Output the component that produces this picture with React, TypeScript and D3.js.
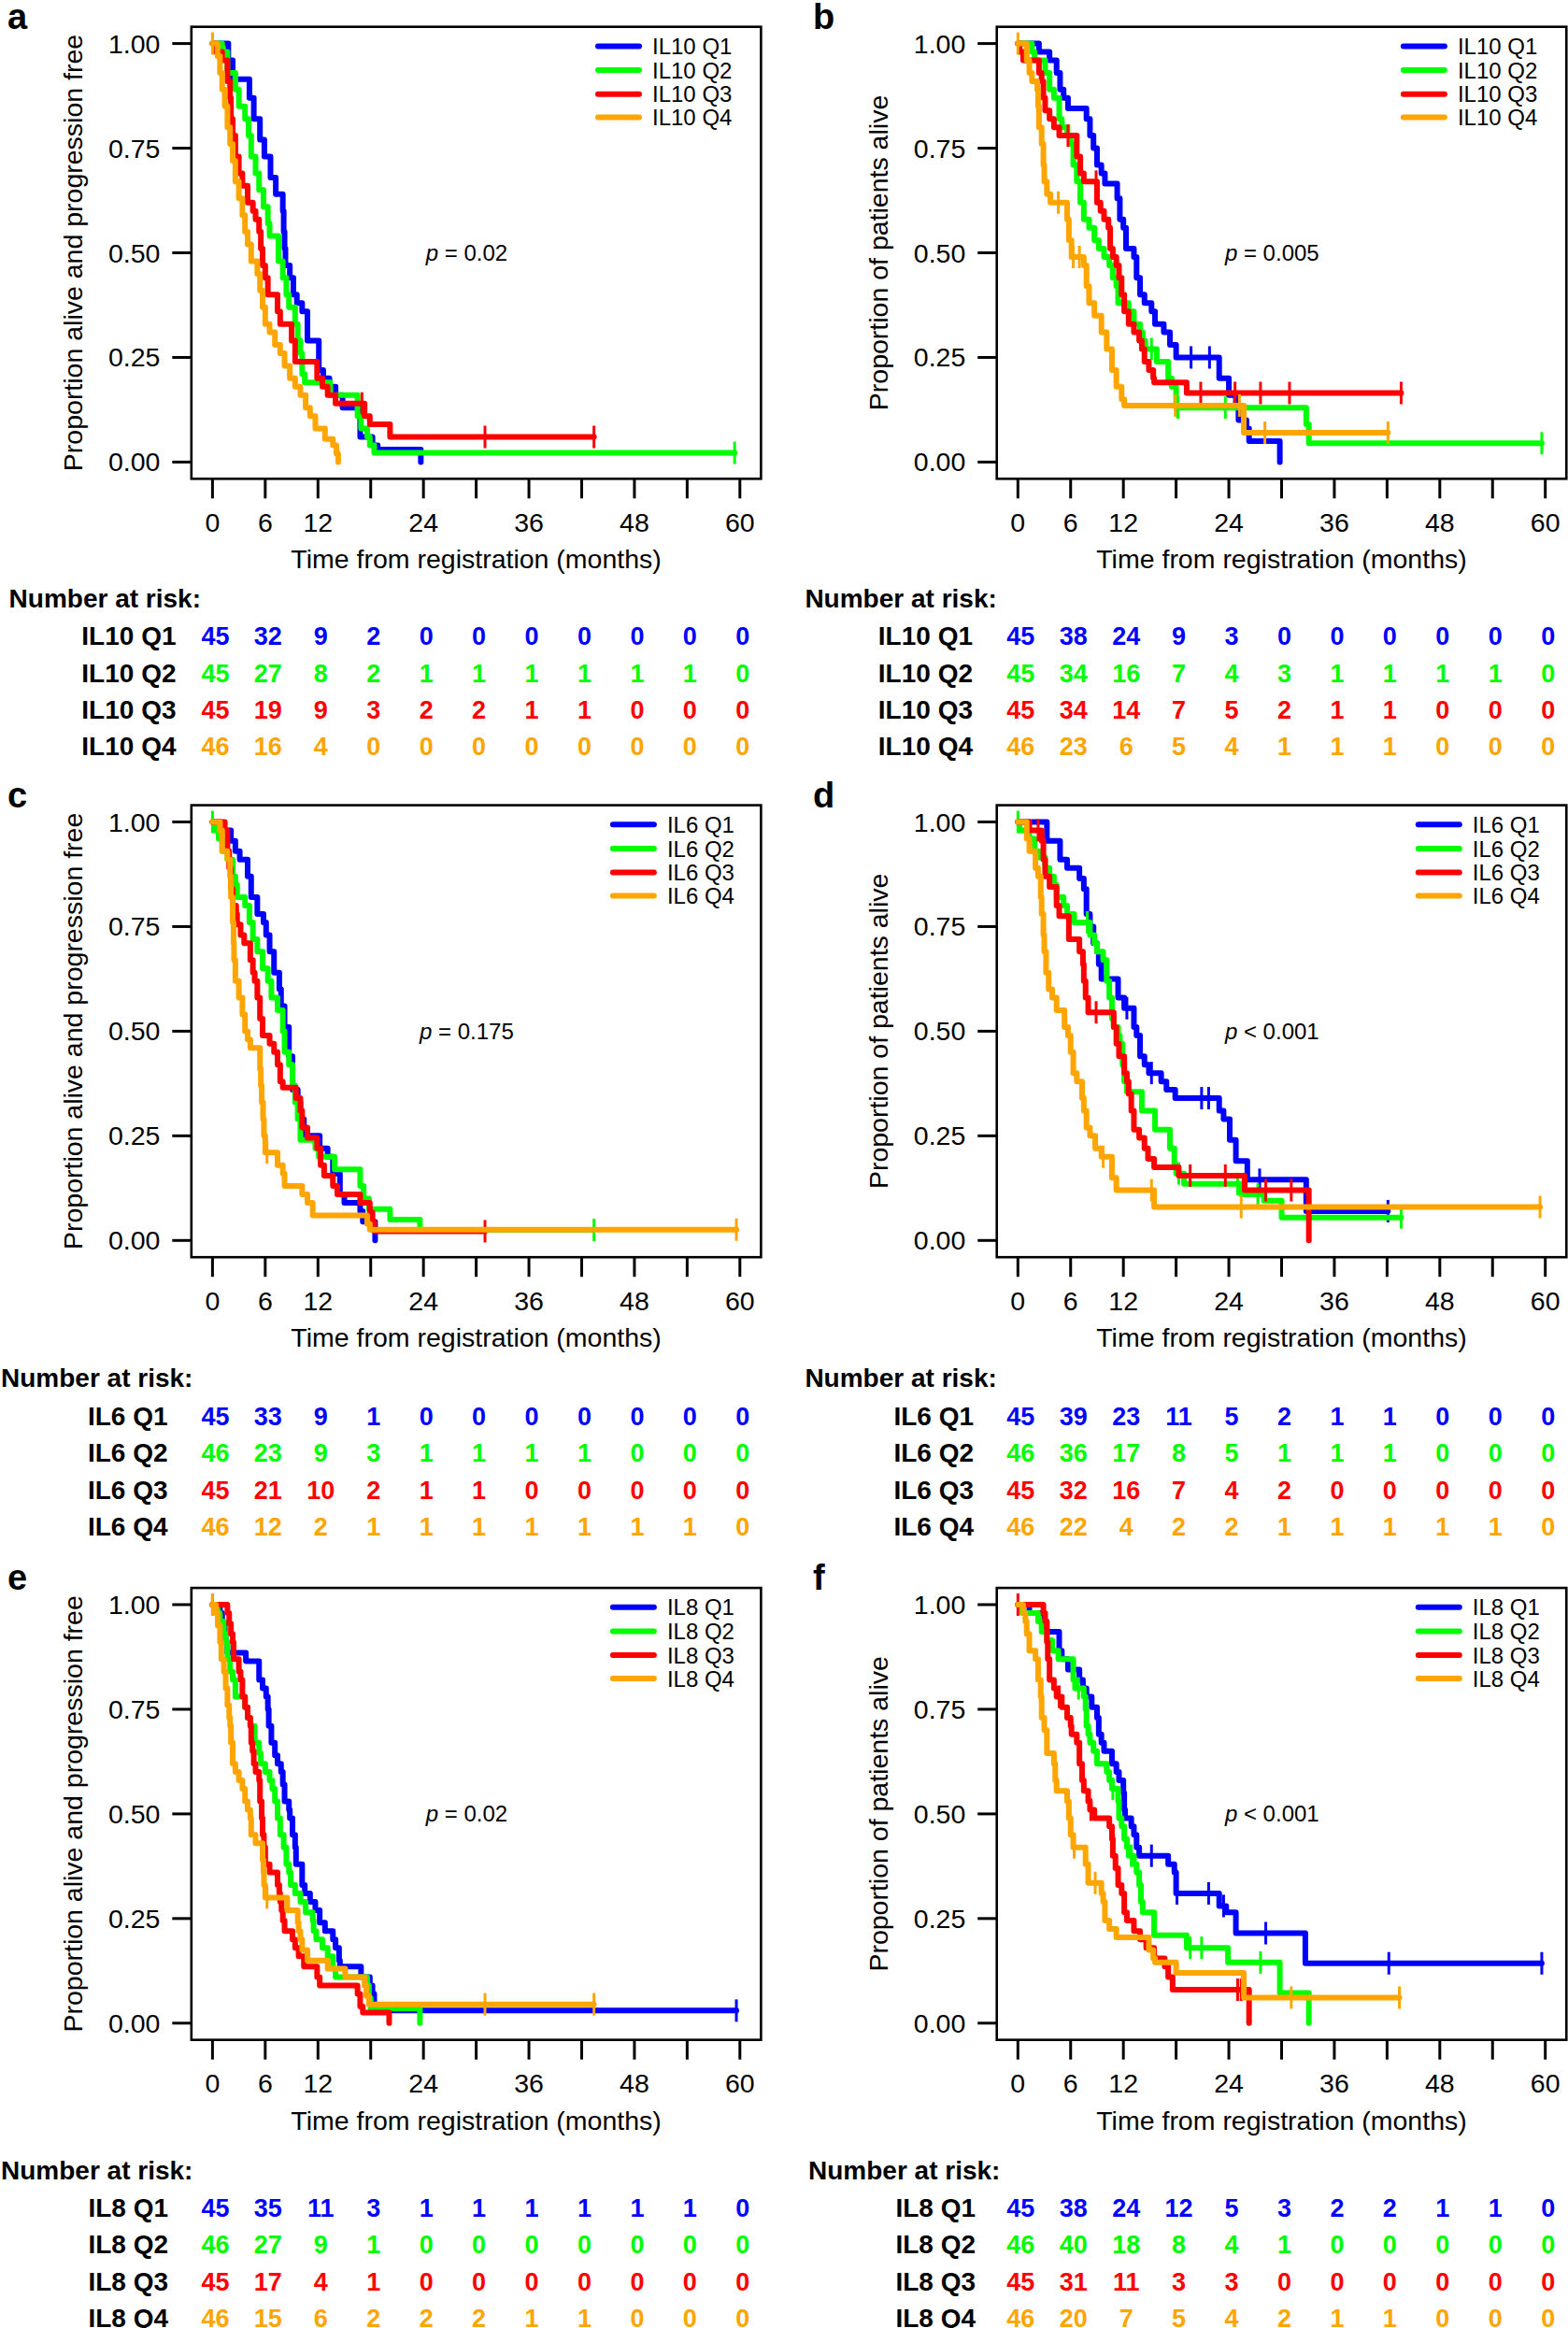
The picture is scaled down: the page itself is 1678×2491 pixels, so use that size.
import React from 'react';
import * as d3 from 'd3';

type Step = [number, number];

// ---------- shared axis values ----------
const timeTicks = [0, 6, 12, 18, 24, 30, 36, 42, 48, 54, 60];
const timeTickLabels = ['0', '6', '12', '', '24', '', '36', '', '48', '', '60'];
const survTicks = [0, 0.25, 0.5, 0.75, 1];
const survTickLabels = ['0.00', '0.25', '0.50', '0.75', '1.00'];
const riskTimes = [0, 6, 12, 18, 24, 30, 36, 42, 48, 54, 60];
const groupColors = ['#0000FF', '#00FF00', '#FF0000', '#FFA500'];

const il10Groups = ['IL10 Q1', 'IL10 Q2', 'IL10 Q3', 'IL10 Q4'];
const il6Groups = ['IL6 Q1', 'IL6 Q2', 'IL6 Q3', 'IL6 Q4'];
const il8Groups = ['IL8 Q1', 'IL8 Q2', 'IL8 Q3', 'IL8 Q4'];

const pfsTitle = 'Proportion alive and progression free';
const osTitle = 'Proportion of patients alive';
const xTitle = 'Time from registration (months)';

// ---------- panel a: IL10, PFS ----------
const aQ1Steps: Step[] = [[1.8,0.96],[2.3,0.915],[4.2,0.87],[4.7,0.82],[5.4,0.77],[5.9,0.73],[6.6,0.68],[7.2,0.64],[8.0,0.6],[8.1,0.55],[8.2,0.51],[8.3,0.47],[8.8,0.44],[9.2,0.4],[9.6,0.38],[10.2,0.36],[10.8,0.29],[12.1,0.22],[12.6,0.2],[13.3,0.18],[14.0,0.16],[14.8,0.13],[16.8,0.06],[18.2,0.04],[18.8,0.03],[23.7,0]];
const aQ1Censor: number[] = [];
const aQ2Steps: Step[] = [[1.1,0.98],[1.7,0.93],[2.6,0.89],[3.0,0.85],[3.7,0.82],[4.1,0.78],[4.4,0.73],[4.9,0.69],[5.3,0.65],[5.8,0.61],[6.3,0.57],[6.5,0.54],[7.5,0.48],[8.0,0.44],[8.4,0.4],[8.7,0.37],[9.4,0.33],[9.7,0.29],[10.0,0.26],[10.2,0.21],[10.5,0.19],[13.4,0.16],[16.5,0.11],[16.9,0.08],[17.6,0.06],[17.9,0.04],[18.4,0.022]];
const aQ2Censor: number[] = [59.4];
const aQ3Steps: Step[] = [[0.4,0.98],[1.1,0.96],[1.7,0.91],[2.0,0.87],[2.1,0.82],[2.3,0.78],[2.6,0.73],[3.0,0.69],[3.4,0.66],[4.0,0.62],[4.6,0.6],[4.9,0.58],[5.3,0.55],[5.5,0.51],[5.7,0.47],[6.0,0.44],[6.3,0.4],[7.4,0.36],[7.7,0.33],[9.0,0.29],[9.4,0.24],[11.9,0.2],[12.5,0.18],[13.1,0.16],[14.0,0.14],[17.3,0.11],[17.9,0.09],[20.2,0.06]];
const aQ3Censor: number[] = [17.0, 31.0, 43.4];
const aQ4Steps: Step[] = [[0.57,0.97],[0.85,0.93],[1.1,0.89],[1.4,0.85],[1.7,0.8],[2.0,0.76],[2.3,0.72],[2.6,0.67],[3.0,0.63],[3.4,0.59],[3.7,0.55],[4.0,0.52],[4.4,0.48],[5.1,0.45],[5.4,0.41],[5.7,0.37],[6.0,0.33],[6.5,0.31],[7.1,0.28],[7.7,0.26],[8.2,0.23],[8.8,0.2],[9.4,0.18],[10.0,0.16],[10.6,0.13],[11.1,0.11],[11.7,0.08],[12.8,0.055],[13.7,0.04],[14.1,0.02],[14.3,0]];
const aQ4Censor: number[] = [0];
const aRiskQ1 = [45, 32, 9, 2, 0, 0, 0, 0, 0, 0, 0];
const aRiskQ2 = [45, 27, 8, 2, 1, 1, 1, 1, 1, 1, 0];
const aRiskQ3 = [45, 19, 9, 3, 2, 2, 1, 1, 0, 0, 0];
const aRiskQ4 = [46, 16, 4, 0, 0, 0, 0, 0, 0, 0, 0];

// ---------- panel b: IL10, OS ----------
const bQ1Steps: Step[] = [[2.4,0.98],[3.6,0.96],[4.4,0.93],[4.8,0.89],[5.2,0.87],[5.7,0.845],[7.8,0.82],[8.2,0.78],[8.6,0.75],[9.0,0.71],[9.5,0.69],[9.9,0.665],[11.3,0.63],[11.6,0.58],[12.0,0.56],[12.3,0.51],[13.2,0.49],[13.5,0.44],[13.9,0.4],[14.4,0.38],[15.2,0.36],[15.6,0.33],[16.6,0.31],[17.3,0.28],[18.0,0.25],[22.9,0.2],[24.0,0.16],[24.8,0.13],[25.1,0.1],[26.0,0.08],[26.3,0.05],[29.8,0]];
const bQ1Censor: number[] = [19.7, 21.8];
const bQ2Steps: Step[] = [[1.6,0.98],[1.9,0.96],[3.1,0.93],[3.6,0.89],[4.1,0.87],[4.7,0.82],[5.0,0.8],[5.6,0.78],[6.0,0.76],[6.3,0.71],[6.7,0.67],[7.1,0.62],[7.5,0.58],[8.1,0.56],[8.7,0.53],[9.2,0.51],[9.8,0.49],[10.4,0.47],[10.8,0.44],[11.2,0.42],[11.4,0.38],[12.6,0.36],[13.2,0.33],[13.9,0.31],[14.2,0.29],[14.5,0.27],[15.8,0.24],[17.1,0.2],[17.5,0.18],[18.0,0.13],[32.8,0.09],[33.1,0.045]];
const bQ2Censor: number[] = [5.8, 15.2, 18.2, 23.6, 59.6];
const bQ3Steps: Step[] = [[0.2,0.98],[0.6,0.96],[2.4,0.93],[2.7,0.91],[2.9,0.87],[3.1,0.84],[3.6,0.82],[4.1,0.8],[4.7,0.78],[6.7,0.73],[7.1,0.69],[7.5,0.67],[9.0,0.62],[9.4,0.6],[9.8,0.58],[10.3,0.56],[10.5,0.51],[10.8,0.49],[11.2,0.47],[11.5,0.44],[11.8,0.4],[12.1,0.36],[12.6,0.33],[13.2,0.31],[13.8,0.29],[14.1,0.27],[14.4,0.24],[14.9,0.22],[15.4,0.2],[15.5,0.19],[19.2,0.165]];
const bQ3Censor: number[] = [5.7, 8.9, 20.8, 24.7, 27.6, 30.9, 43.6];
const bQ4Steps: Step[] = [[1.0,0.96],[1.3,0.93],[1.6,0.91],[2.2,0.89],[2.3,0.85],[2.4,0.8],[2.7,0.76],[2.9,0.71],[3.0,0.67],[3.3,0.64],[3.7,0.62],[5.6,0.58],[5.8,0.53],[6.1,0.49],[7.5,0.47],[7.8,0.42],[8.1,0.38],[8.7,0.35],[9.5,0.31],[10.1,0.27],[10.7,0.22],[11.2,0.18],[11.8,0.15],[12.1,0.135],[25.7,0.07]];
const bQ4Censor: number[] = [0, 4.6, 6.3, 7.0, 17.9, 25.2, 28.1, 42.1];
const bRiskQ1 = [45, 38, 24, 9, 3, 0, 0, 0, 0, 0, 0];
const bRiskQ2 = [45, 34, 16, 7, 4, 3, 1, 1, 1, 1, 0];
const bRiskQ3 = [45, 34, 14, 7, 5, 2, 1, 1, 0, 0, 0];
const bRiskQ4 = [46, 23, 6, 5, 4, 1, 1, 1, 0, 0, 0];

// ---------- panel c: IL6, PFS ----------
const cQ1Steps: Step[] = [[0.85,0.98],[2.1,0.955],[2.6,0.93],[3.1,0.91],[4.0,0.87],[4.4,0.82],[5.1,0.78],[5.8,0.76],[6.1,0.73],[6.5,0.69],[7.0,0.64],[7.6,0.6],[7.8,0.56],[8.2,0.51],[8.7,0.44],[9.1,0.36],[9.7,0.33],[10.0,0.29],[10.4,0.25],[12.2,0.22],[13.1,0.2],[13.7,0.16],[14.5,0.11],[15.0,0.09],[16.8,0.07],[17.1,0.045],[18.5,0]];
const cQ1Censor: number[] = [];
const cQ2Steps: Step[] = [[0.3,0.98],[0.7,0.96],[1.1,0.93],[1.7,0.91],[2.3,0.87],[2.6,0.85],[2.8,0.82],[3.7,0.8],[4.2,0.76],[4.6,0.72],[5.1,0.69],[5.7,0.65],[6.3,0.62],[6.7,0.58],[7.4,0.55],[8.0,0.5],[8.2,0.45],[8.7,0.42],[9.1,0.37],[9.4,0.33],[9.7,0.29],[10.0,0.24],[11.7,0.22],[12.1,0.2],[13.9,0.17],[16.8,0.13],[17.2,0.1],[17.8,0.075],[20.2,0.05],[23.6,0.025]];
const cQ2Censor: number[] = [0, 43.4];
const cQ3Steps: Step[] = [[1.4,0.98],[1.7,0.93],[1.9,0.89],[2.1,0.84],[2.3,0.8],[2.7,0.78],[2.8,0.755],[3.2,0.73],[3.6,0.71],[4.3,0.67],[4.6,0.64],[4.8,0.62],[5.1,0.58],[5.4,0.53],[5.7,0.49],[6.5,0.47],[7.0,0.45],[7.4,0.42],[7.7,0.38],[8.0,0.365],[9.5,0.34],[10.0,0.31],[10.2,0.27],[10.8,0.245],[11.9,0.22],[12.3,0.18],[12.7,0.155],[13.7,0.13],[14.2,0.11],[16.8,0.09],[17.9,0.067],[18.2,0.045],[18.4,0.022]];
const cQ3Censor: number[] = [31.0];
const cQ4Steps: Step[] = [[0.85,0.98],[1.1,0.93],[1.7,0.91],[2.0,0.87],[2.1,0.82],[2.3,0.76],[2.4,0.71],[2.45,0.67],[2.6,0.62],[3.0,0.58],[3.4,0.54],[3.7,0.5],[4.0,0.48],[4.3,0.46],[5.4,0.41],[5.5,0.37],[5.6,0.33],[5.75,0.29],[5.85,0.25],[6.0,0.21],[7.4,0.18],[8.0,0.16],[8.2,0.13],[10.2,0.11],[10.8,0.09],[11.4,0.06],[17.6,0.04],[17.9,0.026]];
const cQ4Censor: number[] = [6.2, 59.6];
const cRiskQ1 = [45, 33, 9, 1, 0, 0, 0, 0, 0, 0, 0];
const cRiskQ2 = [46, 23, 9, 3, 1, 1, 1, 1, 0, 0, 0];
const cRiskQ3 = [45, 21, 10, 2, 1, 1, 0, 0, 0, 0, 0];
const cRiskQ4 = [46, 12, 2, 1, 1, 1, 1, 1, 1, 1, 0];

// ---------- panel d: IL6, OS ----------
const dQ1Steps: Step[] = [[3.3,0.955],[4.8,0.91],[5.6,0.89],[7.0,0.865],[7.5,0.84],[7.8,0.78],[8.2,0.75],[8.6,0.71],[9.0,0.69],[9.2,0.66],[9.5,0.625],[11.4,0.58],[12.1,0.555],[13.2,0.51],[13.5,0.49],[13.9,0.44],[14.4,0.42],[14.9,0.4],[16.3,0.38],[16.9,0.36],[17.9,0.34],[22.9,0.31],[23.4,0.29],[24.1,0.24],[24.8,0.19],[26.1,0.145],[32.8,0.07]];
const dQ1Censor: number[] = [12.4, 15.2, 20.9, 21.7, 27.5, 42.1];
const dQ2Steps: Step[] = [[0.2,0.98],[1.3,0.96],[1.9,0.93],[2.4,0.915],[3.1,0.89],[3.6,0.87],[4.1,0.85],[4.4,0.82],[5.2,0.8],[5.6,0.78],[6.4,0.76],[8.2,0.73],[8.7,0.71],[9.0,0.69],[9.7,0.67],[10.1,0.62],[10.4,0.58],[10.7,0.53],[10.9,0.51],[11.4,0.49],[11.6,0.47],[11.9,0.42],[12.1,0.38],[12.4,0.355],[14.1,0.31],[15.6,0.265],[17.3,0.22],[17.8,0.18],[18.0,0.16],[18.9,0.135],[25.4,0.11],[28.0,0.095],[30.0,0.055]];
const dQ2Censor: number[] = [0, 7.9, 18.3, 25.0, 27.3, 43.6];
const dQ3Steps: Step[] = [[1.3,0.98],[2.7,0.955],[2.9,0.91],[3.1,0.87],[3.6,0.845],[4.4,0.8],[4.7,0.775],[5.8,0.72],[7.0,0.69],[7.4,0.66],[7.5,0.62],[7.7,0.58],[8.0,0.545],[10.9,0.51],[11.2,0.47],[11.5,0.44],[12.1,0.4],[12.4,0.38],[12.6,0.35],[12.9,0.31],[13.2,0.265],[13.8,0.245],[14.4,0.22],[14.8,0.195],[15.5,0.175],[18.3,0.155],[25.8,0.12],[33.1,0]];
const dQ3Censor: number[] = [2.3, 8.9, 19.6, 23.6, 28.2, 31.1];
const dQ4Steps: Step[] = [[1.0,0.96],[1.3,0.93],[2.0,0.89],[2.3,0.87],[2.6,0.82],[2.7,0.78],[2.9,0.73],[3.0,0.69],[3.2,0.64],[3.5,0.6],[3.9,0.58],[4.4,0.55],[5.3,0.51],[5.7,0.49],[6.0,0.45],[6.3,0.4],[6.7,0.38],[7.3,0.34],[7.5,0.31],[7.8,0.27],[8.2,0.25],[8.8,0.22],[9.5,0.2],[10.7,0.15],[11.2,0.12],[15.5,0.08]];
const dQ4Censor: number[] = [9.7, 15.2, 25.4, 59.4];
const dRiskQ1 = [45, 39, 23, 11, 5, 2, 1, 1, 0, 0, 0];
const dRiskQ2 = [46, 36, 17, 8, 5, 1, 1, 1, 0, 0, 0];
const dRiskQ3 = [45, 32, 16, 7, 4, 2, 0, 0, 0, 0, 0];
const dRiskQ4 = [46, 22, 4, 2, 2, 1, 1, 1, 1, 1, 0];

// ---------- panel e: IL8, PFS ----------
const eQ1Steps: Step[] = [[0.85,0.98],[1.1,0.955],[1.4,0.93],[1.5,0.91],[1.7,0.885],[3.8,0.865],[5.3,0.82],[5.7,0.8],[6.1,0.78],[6.3,0.75],[6.4,0.71],[6.7,0.67],[7.1,0.64],[7.4,0.62],[7.8,0.6],[8.0,0.57],[8.2,0.53],[8.7,0.51],[8.8,0.49],[9.1,0.45],[9.4,0.42],[9.5,0.38],[10.2,0.33],[10.5,0.31],[11.1,0.29],[11.7,0.27],[12.2,0.24],[12.8,0.22],[13.7,0.2],[14.0,0.18],[14.4,0.15],[14.5,0.135],[16.9,0.11],[17.9,0.09],[18.2,0.07],[18.4,0.045],[18.5,0.03]];
const eQ1Censor: number[] = [59.6];
const eQ2Steps: Step[] = [[0.6,0.98],[0.85,0.96],[1.3,0.93],[1.5,0.91],[1.7,0.87],[2.0,0.84],[2.3,0.82],[2.6,0.78],[3.7,0.755],[4.0,0.73],[4.3,0.71],[4.8,0.67],[5.3,0.645],[5.5,0.62],[6.0,0.6],[6.5,0.58],[6.8,0.56],[7.1,0.53],[7.4,0.49],[7.7,0.45],[8.1,0.42],[8.4,0.38],[8.7,0.36],[8.9,0.33],[9.4,0.31],[10.0,0.29],[10.6,0.265],[11.4,0.245],[11.5,0.22],[11.8,0.2],[12.5,0.18],[13.1,0.16],[13.7,0.13],[14.0,0.11],[17.6,0.09],[17.8,0.06],[18.0,0.035],[23.6,0]];
const eQ2Censor: number[] = [];
const eQ3Steps: Step[] = [[1.7,0.98],[1.9,0.955],[2.1,0.93],[2.3,0.91],[2.4,0.87],[3.0,0.84],[3.2,0.82],[3.4,0.78],[3.7,0.755],[4.0,0.73],[4.3,0.71],[4.4,0.67],[4.55,0.65],[4.7,0.62],[4.9,0.6],[5.3,0.58],[5.4,0.53],[5.6,0.49],[5.7,0.45],[5.85,0.42],[6.0,0.38],[6.5,0.36],[7.4,0.33],[7.6,0.31],[7.7,0.29],[7.85,0.27],[8.0,0.245],[8.2,0.22],[9.1,0.2],[9.4,0.18],[9.8,0.16],[10.4,0.135],[11.9,0.11],[12.2,0.09],[16.5,0.07],[16.8,0.04],[17.1,0.025],[20.1,0]];
const eQ3Censor: number[] = [0];
const eQ4Steps: Step[] = [[0.4,0.98],[0.6,0.95],[0.85,0.91],[1.0,0.87],[1.3,0.84],[1.5,0.8],[1.7,0.76],[1.9,0.73],[2.0,0.71],[2.1,0.67],[2.3,0.62],[2.6,0.6],[3.0,0.58],[3.4,0.56],[3.7,0.53],[4.0,0.51],[4.3,0.49],[4.4,0.45],[4.9,0.43],[5.7,0.39],[5.8,0.36],[5.86,0.33],[6.0,0.3],[8.5,0.27],[9.7,0.24],[9.8,0.22],[10.0,0.2],[10.2,0.175],[10.8,0.15],[13.1,0.13],[15.1,0.11],[17.3,0.09],[17.5,0.065],[17.8,0.045]];
const eQ4Censor: number[] = [0, 6.2, 31.0, 43.4];
const eRiskQ1 = [45, 35, 11, 3, 1, 1, 1, 1, 1, 1, 0];
const eRiskQ2 = [46, 27, 9, 1, 0, 0, 0, 0, 0, 0, 0];
const eRiskQ3 = [45, 17, 4, 1, 0, 0, 0, 0, 0, 0, 0];
const eRiskQ4 = [46, 15, 6, 2, 2, 2, 1, 1, 0, 0, 0];

// ---------- panel f: IL8, OS ----------
const fQ1Steps: Step[] = [[1.3,0.98],[3.0,0.935],[4.7,0.89],[5.0,0.87],[5.7,0.845],[7.0,0.82],[7.4,0.8],[7.8,0.78],[8.4,0.755],[9.0,0.73],[9.2,0.69],[9.5,0.67],[9.8,0.65],[10.7,0.62],[11.2,0.6],[11.5,0.58],[12.0,0.55],[12.1,0.51],[12.2,0.49],[12.9,0.47],[13.2,0.45],[13.5,0.42],[13.8,0.4],[17.1,0.38],[17.8,0.36],[18.0,0.31],[22.9,0.28],[23.7,0.265],[24.8,0.215],[32.7,0.143]];
const fQ1Censor: number[] = [15.2, 18.1, 21.7, 23.4, 28.2, 42.2, 59.6];
const fQ2Steps: Step[] = [[0.5,0.98],[2.3,0.96],[2.7,0.935],[3.3,0.915],[3.9,0.89],[4.6,0.87],[6.3,0.82],[6.5,0.8],[7.5,0.78],[7.7,0.75],[7.8,0.71],[8.0,0.69],[8.2,0.67],[8.6,0.65],[9.0,0.62],[10.1,0.6],[10.4,0.58],[10.7,0.56],[11.4,0.53],[11.5,0.49],[11.8,0.47],[12.1,0.44],[12.4,0.42],[12.6,0.4],[13.2,0.38],[13.5,0.36],[13.8,0.33],[14.0,0.29],[14.2,0.265],[15.5,0.21],[19.2,0.18],[23.9,0.145],[29.8,0.072],[33.1,0]];
const fQ2Censor: number[] = [6.9, 10.8, 12.9, 19.6, 20.9, 27.6];
const fQ3Steps: Step[] = [[2.9,0.98],[3.1,0.96],[3.3,0.91],[3.4,0.87],[3.6,0.82],[4.1,0.8],[4.4,0.78],[5.0,0.755],[5.6,0.73],[6.0,0.71],[6.1,0.69],[6.7,0.67],[7.0,0.62],[7.3,0.58],[7.5,0.555],[8.0,0.53],[8.2,0.51],[8.7,0.49],[10.4,0.47],[10.7,0.44],[10.8,0.4],[11.1,0.37],[11.4,0.33],[11.8,0.31],[12.1,0.265],[12.4,0.245],[13.2,0.22],[13.9,0.2],[14.6,0.18],[15.5,0.155],[16.7,0.135],[17.1,0.11],[17.6,0.08],[26.3,0]];
const fQ3Censor: number[] = [0, 4.7, 8.3, 25.0, 25.4];
const fQ4Steps: Step[] = [[0.6,0.98],[0.85,0.96],[1.0,0.93],[1.3,0.89],[2.0,0.87],[2.3,0.82],[2.6,0.78],[2.7,0.73],[3.0,0.7],[3.3,0.645],[4.1,0.62],[4.25,0.58],[4.4,0.555],[5.6,0.53],[5.8,0.49],[6.0,0.45],[6.3,0.42],[7.7,0.38],[8.0,0.335],[9.5,0.31],[9.7,0.29],[9.9,0.245],[10.4,0.225],[11.2,0.205],[14.9,0.175],[15.4,0.155],[15.6,0.145],[18.0,0.12],[25.7,0.061]];
const fQ4Censor: number[] = [6.4, 8.8, 31.1, 43.4];
const fRiskQ1 = [45, 38, 24, 12, 5, 3, 2, 2, 1, 1, 0];
const fRiskQ2 = [46, 40, 18, 8, 4, 1, 0, 0, 0, 0, 0];
const fRiskQ3 = [45, 31, 11, 3, 3, 0, 0, 0, 0, 0, 0];
const fRiskQ4 = [46, 20, 7, 5, 4, 2, 1, 1, 0, 0, 0];

// ---------- panel assembly (content) ----------
const panels = [
  { letter: 'a', yTitle: pfsTitle, groups: il10Groups, pOp: '=', pVal: '0.02',
    steps: [aQ1Steps, aQ2Steps, aQ3Steps, aQ4Steps], censors: [aQ1Censor, aQ2Censor, aQ3Censor, aQ4Censor], risks: [aRiskQ1, aRiskQ2, aRiskQ3, aRiskQ4] },
  { letter: 'b', yTitle: osTitle, groups: il10Groups, pOp: '=', pVal: '0.005',
    steps: [bQ1Steps, bQ2Steps, bQ3Steps, bQ4Steps], censors: [bQ1Censor, bQ2Censor, bQ3Censor, bQ4Censor], risks: [bRiskQ1, bRiskQ2, bRiskQ3, bRiskQ4] },
  { letter: 'c', yTitle: pfsTitle, groups: il6Groups, pOp: '=', pVal: '0.175',
    steps: [cQ1Steps, cQ2Steps, cQ3Steps, cQ4Steps], censors: [cQ1Censor, cQ2Censor, cQ3Censor, cQ4Censor], risks: [cRiskQ1, cRiskQ2, cRiskQ3, cRiskQ4] },
  { letter: 'd', yTitle: osTitle, groups: il6Groups, pOp: '<', pVal: '0.001',
    steps: [dQ1Steps, dQ2Steps, dQ3Steps, dQ4Steps], censors: [dQ1Censor, dQ2Censor, dQ3Censor, dQ4Censor], risks: [dRiskQ1, dRiskQ2, dRiskQ3, dRiskQ4] },
  { letter: 'e', yTitle: pfsTitle, groups: il8Groups, pOp: '=', pVal: '0.02',
    steps: [eQ1Steps, eQ2Steps, eQ3Steps, eQ4Steps], censors: [eQ1Censor, eQ2Censor, eQ3Censor, eQ4Censor], risks: [eRiskQ1, eRiskQ2, eRiskQ3, eRiskQ4] },
  { letter: 'f', yTitle: osTitle, groups: il8Groups, pOp: '<', pVal: '0.001',
    steps: [fQ1Steps, fQ2Steps, fQ3Steps, fQ4Steps], censors: [fQ1Censor, fQ2Censor, fQ3Censor, fQ4Censor], risks: [fRiskQ1, fRiskQ2, fRiskQ3, fRiskQ4] },
];

// ---------- layout (pixels) ----------
const W = 1678;
const H = 2491;
const FONT = "'Liberation Sans', Arial, Helvetica, sans-serif";
const colX0 = [227.4, 1089.3];
const rowY1 = [46.6, 879.5, 1717];
const monthsW = 564.4; // 0..60 months
const unitH = 447.8;   // 0..1
const riskTitleY = [640, 1473.5, 2321.5];
const riskRowY = [[680, 719.5, 759, 798], [1515, 1554, 1593.5, 1633], [2361.5, 2401, 2440.5, 2480]];
const riskTitleX = [9.6, 861.4, 1, 861.4, 1, 865];
const riskLabelRight = [188.5, 1041, 179.5, 1042, 180, 1044];

function survAt(steps: Step[], t: number) {
  let s = 1;
  for (const [st, sv] of steps) if (st <= t) s = sv;
  return s;
}

function Panel({ p, idx }: { p: typeof panels[number]; idx: number }) {
  const col = idx % 2;
  const row = Math.floor(idx / 2);
  const x0 = colX0[col];
  const y1 = rowY1[row];
  const x = d3.scaleLinear().domain([0, 60]).range([x0, x0 + monthsW]);
  const y = d3.scaleLinear().domain([0, 1]).range([y1 + unitH, y1]);
  const boxL = x(-2.4), boxR = x(62.4), boxT = y(1.04), boxB = y(-0.04);
  const line = d3.line<Step>().x(d => x(d[0])).y(d => y(d[1])).curve(d3.curveStepAfter);
  const legendTextX = x0 + (p.groups[0].length > 6 ? 470.6 : 486.5);
  const legendDy = [2.8, 28.4, 54.1, 79];
  const rowsY = riskRowY[row];

  return (
    <g>
      <text x={x0 - 219.4} y={y1 - 16} fontFamily={FONT} fontWeight="bold" fontSize={38}>{p.letter}</text>
      <rect x={boxL} y={boxT} width={boxR - boxL} height={boxB - boxT} fill="none" stroke="#000" strokeWidth={2.6} />
      {survTicks.map((v, i) => (
        <g key={'yt' + i}>
          <line x1={boxL - 20.5} x2={boxL} y1={y(v)} y2={y(v)} stroke="#000" strokeWidth={3} />
          <text x={x0 - 56} y={y(v) + 10} textAnchor="end" fontFamily={FONT} fontSize={28.5}>{survTickLabels[i]}</text>
        </g>
      ))}
      {timeTicks.map((t, i) => (
        <g key={'xt' + i}>
          <line x1={x(t)} x2={x(t)} y1={boxB} y2={boxB + 21} stroke="#000" strokeWidth={3} />
          {timeTickLabels[i] && (
            <text x={x(t)} y={y(0) + 74.2} textAnchor="middle" fontFamily={FONT} fontSize={28.5}>{timeTickLabels[i]}</text>
          )}
        </g>
      ))}
      <text x={(boxL + boxR) / 2} y={y(0) + 113.8} textAnchor="middle" fontFamily={FONT} fontSize={28.5}>{xTitle}</text>
      <text transform={`translate(${x0 - 139},${(boxT + boxB) / 2}) rotate(-90)`} textAnchor="middle" fontFamily={FONT} fontSize={28.5}>{p.yTitle}</text>
      <text x={x0 + 272} y={y1 + 232} textAnchor="middle" fontFamily={FONT} fontSize={24}>
        <tspan fontStyle="italic">p</tspan>{` ${p.pOp} ${p.pVal}`}
      </text>
      {p.groups.map((g, i) => (
        <g key={'lg' + i}>
          <line x1={legendTextX - 58} x2={legendTextX - 14} y1={y1 + legendDy[i]} y2={y1 + legendDy[i]} stroke={groupColors[i]} strokeWidth={6} strokeLinecap="round" />
          <text x={legendTextX} y={y1 + legendDy[i] + 8.6} fontFamily={FONT} fontSize={24}>{g}</text>
        </g>
      ))}
      {p.steps.map((steps, i) => {
        const cens = p.censors[i];
        const last = steps[steps.length - 1];
        const end = Math.max(last[0], ...cens, 0);
        const pts: Step[] = [[0, 1], ...steps, [end, last[1]]];
        return (
          <g key={'c' + i}>
            <path d={line(pts) || ''} fill="none" stroke={groupColors[i]} strokeWidth={6} strokeLinejoin="round" strokeLinecap="round" />
            {cens.map((t, k) => (
              <line key={k} x1={x(t)} x2={x(t)} y1={y(survAt(steps, t)) - 12} y2={y(survAt(steps, t)) + 12} stroke={groupColors[i]} strokeWidth={3} />
            ))}
          </g>
        );
      })}
      <text x={riskTitleX[idx]} y={riskTitleY[row] + 10} fontFamily={FONT} fontWeight="bold" fontSize={28}>Number at risk:</text>
      {p.groups.map((g, i) => (
        <g key={'rk' + i}>
          <text x={riskLabelRight[idx]} y={rowsY[i] + 10} textAnchor="end" fontFamily={FONT} fontWeight="bold" fontSize={28}>{g}</text>
          {p.risks[i].map((n, k) => (
            <text key={k} x={x(riskTimes[k]) + 3} y={rowsY[i] + 10} textAnchor="middle" fontFamily={FONT} fontWeight="bold" fontSize={27} fill={groupColors[i]}>{n}</text>
          ))}
        </g>
      ))}
    </g>
  );
}

export default function App() {
  return (
    <svg width={W} height={H} viewBox={`0 0 ${W} ${H}`} style={{ position: 'absolute', left: 0, top: 0, background: '#fff' }}>
      <rect x={0} y={0} width={W} height={H} fill="#fff" />
      {panels.map((p, i) => <Panel key={p.letter} p={p} idx={i} />)}
    </svg>
  );
}
